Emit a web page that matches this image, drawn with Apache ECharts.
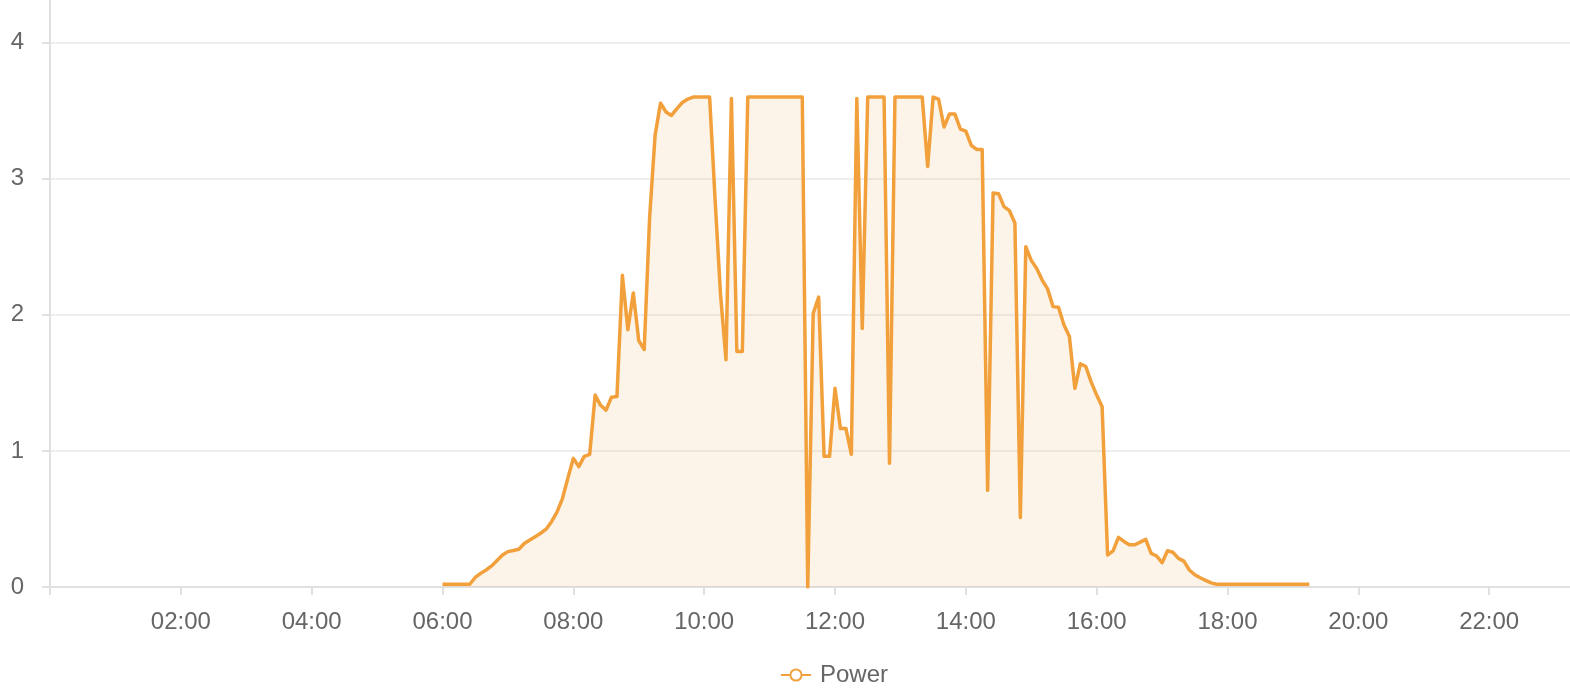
<!DOCTYPE html>
<html>
<head>
<meta charset="utf-8">
<script src="https://cdn.jsdelivr.net/npm/echarts@6/dist/echarts.min.js"></script>
<style>
html,body{margin:0;padding:0;overflow:hidden;background:#fff;width:1570px;height:700px;}
#wrap{position:relative;width:1570px;height:700px;overflow:hidden;}
#chart{position:absolute;left:0;top:-100px;width:1668px;height:800px;}
</style>
</head>
<body>
<div id="wrap"><div id="chart"></div></div>
<script>
// ---- data (5-minute samples starting at 06:00) ----
const seriesName = 'Power';
const startTime = '06:00';
const stepMinutes = 5;
const power = [
  0.02, 0.02, 0.02, 0.02, 0.02, 0.02, 0.07, 0.10, 0.125, 0.155, 0.195, 0.235,      // 06:00
  0.26, 0.268, 0.277, 0.32, 0.345, 0.37, 0.395, 0.425, 0.48, 0.55, 0.65, 0.80,    // 07:00
  0.945, 0.885, 0.96, 0.975, 1.41, 1.335, 1.30, 1.395, 1.40, 2.29, 1.89, 2.16,    // 08:00
  1.81, 1.745, 2.72, 3.32, 3.555, 3.49, 3.465, 3.515, 3.56, 3.585, 3.6, 3.6,      // 09:00
  3.6, 3.6, 2.85, 2.15, 1.67, 3.59, 1.73, 1.73, 3.6, 3.6, 3.6, 3.6,               // 10:00
  3.6, 3.6, 3.6, 3.6, 3.6, 3.6, 3.6, 0.0, 2.01, 2.13, 0.96, 0.96,                 // 11:00
  1.46, 1.165, 1.165, 0.975, 3.59, 1.90, 3.6, 3.6, 3.6, 3.6, 0.91, 3.6,           // 12:00
  3.6, 3.6, 3.6, 3.6, 3.6, 3.09, 3.6, 3.585, 3.38, 3.475, 3.475, 3.365,           // 13:00
  3.35, 3.245, 3.215, 3.215, 0.71, 2.895, 2.89, 2.795, 2.765, 2.675, 0.51, 2.50,  // 14:00
  2.40, 2.34, 2.255, 2.19, 2.06, 2.055, 1.925, 1.84, 1.46, 1.64, 1.62, 1.505,     // 15:00
  1.41, 1.325, 0.235, 0.266, 0.365, 0.335, 0.31, 0.31, 0.33, 0.35, 0.247, 0.228,  // 16:00
  0.178, 0.266, 0.255, 0.21, 0.19, 0.125, 0.09, 0.068, 0.048, 0.03, 0.02, 0.02,   // 17:00
  0.02, 0.02, 0.02, 0.02, 0.02, 0.02, 0.02, 0.02, 0.02, 0.02, 0.02, 0.02,         // 18:00
  0.02, 0.02, 0.02, 0.02                                                            // 19:00
];
const xTickLabels = ['02:00','04:00','06:00','08:00','10:00','12:00','14:00','16:00','18:00','20:00','22:00'];
const yTickLabels = [0, 1, 2, 3, 4];

// ---- helpers ----
function toMin(s){ const p = s.split(':'); return (+p[0]) * 60 + (+p[1]); }
function fmt(m){ const h = Math.floor(m/60), mm = m % 60; return String(h).padStart(2,'0') + ':' + String(mm).padStart(2,'0'); }
const t0 = toMin(startTime);
const data = power.map((v, i) => [t0 + i * stepMinutes, v]);

const FONT = '"Liberation Sans", Arial, Helvetica, sans-serif';
const lineColor = '#F1A03B';
const axisGray = '#e0e0e0';

const chart = echarts.init(document.getElementById('chart'), null, {renderer: 'canvas'});
chart.setOption({
  animation: false,
  backgroundColor: '#ffffff',
  textStyle: {fontFamily: FONT},
  legend: {
    data: [seriesName],
    left: 'center',
    top: 758,
    itemWidth: 30,
    itemHeight: 14,
    itemGap: 10,
    textStyle: {fontSize: 24, color: '#666666', fontFamily: FONT, padding: [0, 0, 0, 4]}
  },
  grid: {left: 50, right: 48, top: 6.5, bottom: 113, containLabel: false},
  xAxis: {
    type: 'value',
    min: 0,
    max: 1440,
    interval: 120,
    axisLine: {show: true, lineStyle: {color: axisGray, width: 2}},
    axisTick: {show: true, length: 8, lineStyle: {color: axisGray, width: 2}},
    axisLabel: {
      fontSize: 24, color: '#666666', fontFamily: FONT, margin: 23,
      formatter: function(v){ const s = fmt(v); return xTickLabels.indexOf(s) >= 0 ? s : ''; }
    },
    splitLine: {show: false}
  },
  yAxis: {
    type: 'value',
    min: 0,
    max: 5,
    interval: 1,
    axisLine: {show: true, lineStyle: {color: axisGray, width: 2}},
    axisTick: {show: true, length: 8, lineStyle: {color: axisGray, width: 2}},
    axisLabel: {
      fontSize: 24, color: '#666666', fontFamily: FONT, margin: 26,
      formatter: function(v){ return yTickLabels.indexOf(v) >= 0 ? String(v) : ''; }
    },
    splitLine: {show: true, lineStyle: {color: '#eeeeee', width: 2}}
  },
  series: [{
    name: seriesName,
    type: 'line',
    data: data,
    showSymbol: false,
    symbol: 'emptyCircle',
    symbolSize: 10,
    lineStyle: {width: 3.5, color: lineColor, join: 'round'},
    itemStyle: {color: lineColor, borderWidth: 2},
    areaStyle: {color: 'rgba(241,160,59,0.16)'}
  }]
});
</script>
</body>
</html>
